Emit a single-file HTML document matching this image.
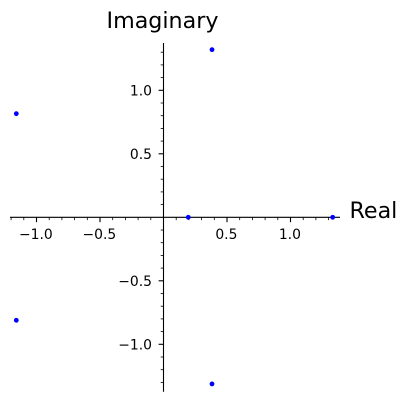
<!DOCTYPE html>
<html>
<head>
<meta charset="utf-8">
<style>
html,body{margin:0;padding:0;background:#fff;}
svg{display:block;}
text{font-family:"DejaVu Sans",sans-serif;fill:#000;}
</style>
</head>
<body>
<svg id="chart" xmlns="http://www.w3.org/2000/svg" width="407" height="401" viewBox="0 0 407 401"></svg>
<script>
const realValues = [-1.159, -1.159, 0.382, 0.382, 0.195, 1.332];
const imagValues = [0.816, -0.811, 1.32, -1.312, 0, 0];
const xTickValues = [-1.0, -0.5, 0.5, 1.0];
const yTickValues = [-1.0, -0.5, 0.5, 1.0];
const xTickLabels = ['\u22121.0', '\u22120.5', '0.5', '1.0'];
const yTickLabels = ['\u22121.0', '\u22120.5', '0.5', '1.0'];
const xMinorTicks = [-1.2,-1.1,-0.9,-0.8,-0.7,-0.6,-0.4,-0.3,-0.2,-0.1,0.1,0.2,0.3,0.4,0.6,0.7,0.8,0.9,1.1,1.2,1.3];
const yMinorTicks = [-1.3,-1.2,-1.1,-0.9,-0.8,-0.7,-0.6,-0.4,-0.3,-0.2,-0.1,0.1,0.2,0.3,0.4,0.6,0.7,0.8,0.9,1.1,1.2,1.3];

const svg = document.getElementById('chart');
const NS = 'http://www.w3.org/2000/svg';
const originX = 163.5, originY = 217.3, scale = 127;
const xAxis = v => originX + v * scale;
const yAxis = v => originY - v * scale;

function make(tag, attrs, parent) {
  const el = document.createElementNS(NS, tag);
  for (const k in attrs) el.setAttribute(k, attrs[k]);
  (parent || svg).appendChild(el);
  return el;
}

const xLine = make('line', {x1: 10, x2: 340, y1: originY, y2: originY, stroke: '#000', 'stroke-width': 1.1});


const yLine = make('line', {x1: originX, x2: originX, y1: 43, y2: 391.7, stroke: '#000', 'stroke-width': 1.1});



xMinorTicks.forEach(v => {
  const t = make('line', {x1: xAxis(v), x2: xAxis(v), y1: originY, y2: originY + 2.8, stroke: '#000', 'stroke-width': 0.8});
  
  
});
yMinorTicks.forEach(v => {
  const t = make('line', {x1: originX, x2: originX - 2.8, y1: yAxis(v), y2: yAxis(v), stroke: '#000', 'stroke-width': 0.8});
  
  
});
xTickValues.forEach((v, i) => {
  const t = make('line', {x1: xAxis(v), x2: xAxis(v), y1: originY, y2: originY + 4.9, stroke: '#000', 'stroke-width': 1.1});
  
  
  const l = make('text', {x: xAxis(v) - 0.6, y: originY + 21.7, 'text-anchor': 'middle', 'font-size': 13.9});
  l.textContent = xTickLabels[i];
  
  
});
yTickValues.forEach((v, i) => {
  const t = make('line', {x1: originX, x2: originX - 4.9, y1: yAxis(v), y2: yAxis(v), stroke: '#000', 'stroke-width': 1.1});
  
  
  const l = make('text', {x: originX - 11.5, y: yAxis(v) + 5, 'text-anchor': 'end', 'font-size': 13.9});
  l.textContent = yTickLabels[i];
  
  
});

realValues.forEach((re, i) => {
  const p = make('circle', {cx: xAxis(re), cy: yAxis(imagValues[i]), r: 2.4, fill: '#0000ff'});
  
  
});

const xTitle = make('text', {x: 349.5, y: 218, 'font-size': 22.2});
xTitle.textContent = 'Real';


const yTitle = make('text', {x: 162.5, y: 28, 'text-anchor': 'middle', 'font-size': 22.2});
yTitle.textContent = 'Imaginary';


</script>
</body>
</html>
